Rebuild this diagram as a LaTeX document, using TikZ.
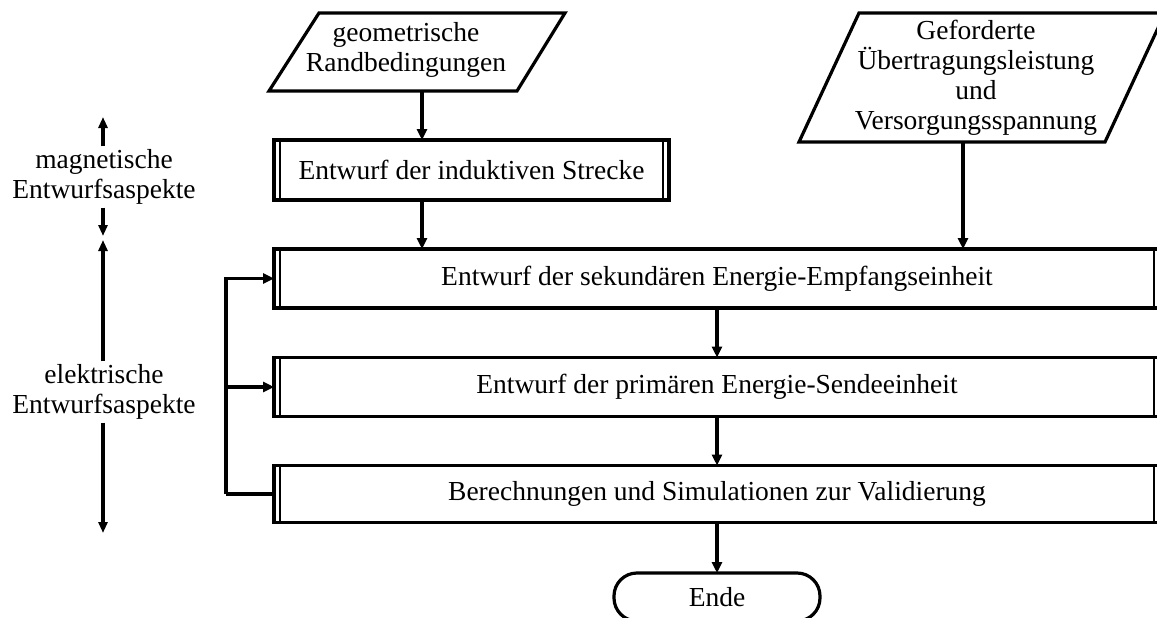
\documentclass[tikz,border=0pt]{standalone}
\usepackage{fontspec}
\setmainfont{Liberation Serif}
\usetikzlibrary{arrows.meta,calc}
\begin{document}
\begin{tikzpicture}[x=1pt,y=-1pt,
  every node/.style={font=\fontsize{27.5}{30}\selectfont},
  proc/.style={draw, line width=3.2pt, outer sep=0pt, inner sep=0pt, minimum height=59pt},
  io/.style={inner sep=0pt, align=center},
  term/.style={draw, line width=3.2pt, rounded corners=23pt, outer sep=0pt,
    minimum width=206pt, minimum height=48pt},
  side/.style={inner sep=3pt, align=center},
  border/.style={line width=3.2pt, line join=miter},
  inner/.style={line width=1.3pt},
  flow/.style={line width=3.2pt, -{Triangle[length=11pt,width=10pt]}},
  span/.style={line width=3.2pt, -{Triangle[length=11pt,width=9pt]}}
]
\useasboundingbox (0,0) rectangle (1157,618);
\clip (0,0) rectangle (1157,618);

% input: geometric constraints
\node[io] (p1) at (406,50) {geometrische\\Randbedingungen};
\draw[border] ($(p1.center)+(-87,-37)$) -- ($(p1.center)+(159,-37)$)
  -- ($(p1.center)+(111,41)$) -- ($(p1.center)+(-137,41)$) -- cycle;
\coordinate (g1) at (422,91);

% input: required power and supply voltage
\node[io] (p2) at (976,78) {Geforderte\\Übertragungsleistung\\und\\Versorgungsspannung};
\draw[border] ($(p2.center)+(-117,-65)$) -- ($(p2.center)+(189,-65)$)
  -- ($(p2.center)+(129,64)$) -- ($(p2.center)+(-177,64)$) -- cycle;
\coordinate (g2) at (963,142);

% process steps
\node[proc, minimum width=395pt, minimum height=60pt] (b1) at (471.5,170)
  {Entwurf der induktiven Strecke};
\node[proc, minimum width=886pt] (b2) at (717,278.5)
  {Entwurf der sekundären Energie-Empfangseinheit};
\node[proc, minimum width=886pt] (b3) at (717,387)
  {Entwurf der primären Energie-Sendeeinheit};
\node[proc, minimum width=886pt, minimum height=57pt] (b4) at (717,494)
  {Berechnungen und Simulationen zur Validierung};
\foreach \b in {b1,b2,b3,b4} {
  \draw[inner] ([xshift=6pt]\b.north west) -- ([xshift=6pt]\b.south west);
  \draw[inner] ([xshift=-6pt]\b.north east) -- ([xshift=-6pt]\b.south east);
}

% end terminal
\node[term] (e) at (717,597) {Ende};

% main flow
\draw[flow] (g1) -- (g1 |- b1.north);
\draw[flow] (b1.south -| g1) -- (g1 |- b2.north);
\draw[flow] (g2) -- (g2 |- b2.north);
\draw[flow] (b2.south) -- (b3.north);
\draw[flow] (b3.south) -- (b4.north);
\draw[flow] (b4.south) -- (e.north);

% feedback loop
\coordinate (fb) at (226,494);
\draw[line width=3.2pt] (b4.west) -- (fb);
\draw[flow, line join=miter] (fb) -- (fb |- b2.west) -- (b2.west);
\draw[flow] (fb |- b3.west) -- (b3.west);

% design aspect ranges
\node[side] (mag) at (104,177) {magnetische\\Entwurfsaspekte};
\node[side] (ele) at (104,392) {elektrische\\Entwurfsaspekte};
\coordinate (mtop) at (103,117);
\coordinate (mbot) at (103,236);
\coordinate (etop) at (103,240);
\coordinate (ebot) at (103,533);
\draw[span] (mag.north -| mtop) -- (mtop);
\draw[span] (mag.south -| mtop) -- (mbot);
\draw[span] (ele.north -| etop) -- (etop);
\draw[span] (ele.south -| etop) -- (ebot);
\end{tikzpicture}
\end{document}
